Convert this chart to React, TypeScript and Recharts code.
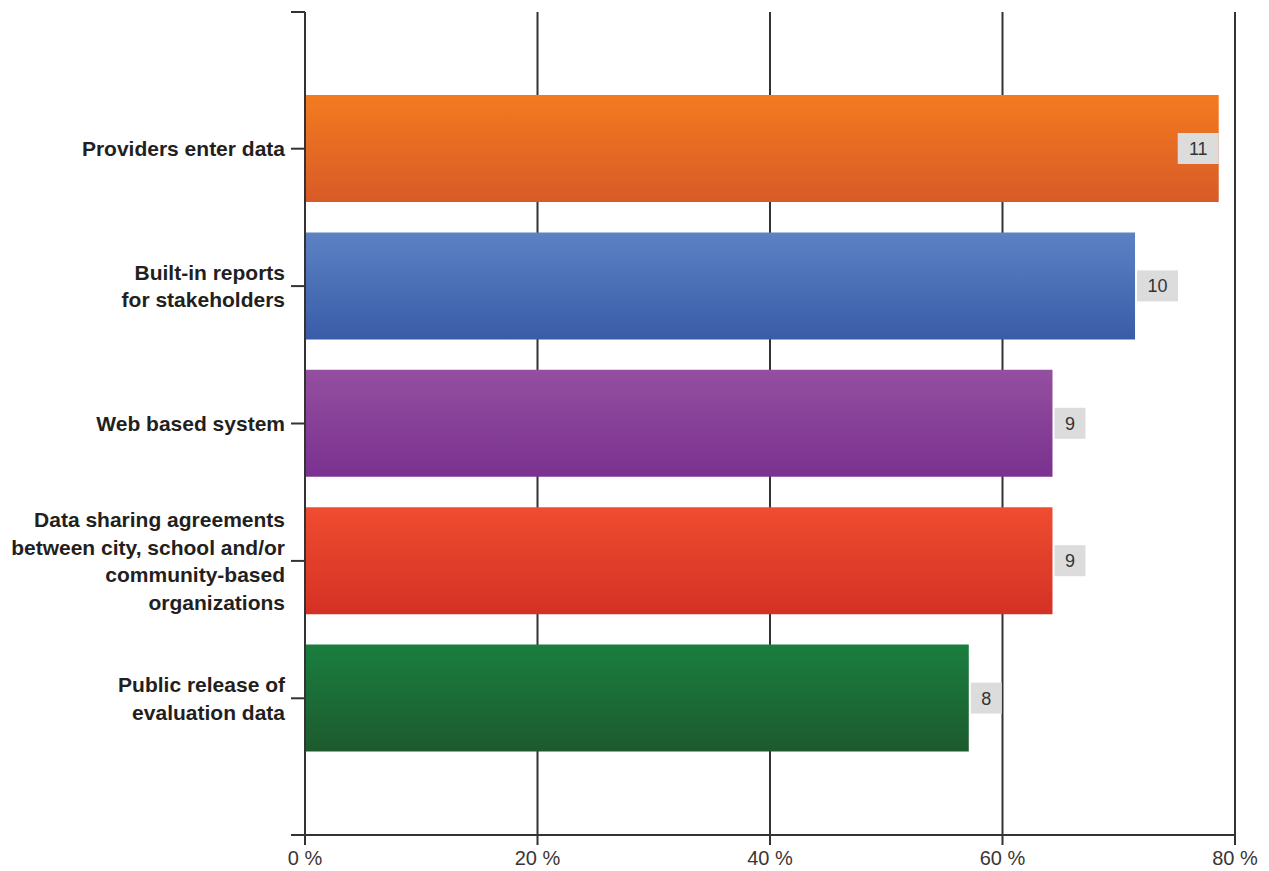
import React from "react";
import * as R from "recharts";
import { BarChart, Bar, XAxis, YAxis, CartesianGrid, Cell, LabelList } from "recharts";

// ── Data ──────────────────────────────────────────────────────────────────────

const CATEGORIES = [
  "Providers enter data",
  "Built-in reports\nfor stakeholders",
  "Web based system",
  "Data sharing agreements\nbetween city, school and/or\ncommunity-based\norganizations",
  "Public release of\nevaluation data",
];
const PERCENTS = [78.6, 71.4, 64.3, 64.3, 57.1];
const COUNTS = [11, 10, 9, 9, 8];
const X_TICKS = [0, 20, 40, 60, 80];

// top / bottom colour of each bar's vertical gradient
const GRADIENTS: [string, string][] = [
  ["#f47b20", "#d85a27"],
  ["#5c82c4", "#3a5ca8"],
  ["#944fa0", "#7a3190"],
  ["#ef4c30", "#d43125"],
  ["#1a7e3f", "#1d5a2e"],
];

const data = CATEGORIES.map((name, i) => ({ name, pct: PERCENTS[i], count: COUNTS[i] }));

const FONT = "'Liberation Sans', Arial, sans-serif";
const AXIS = "#333";

// ── Pieces ────────────────────────────────────────────────────────────────────

function CategoryTick(props: any) {
  const { x, y, payload } = props;
  const lines = String(payload.value).split("\n");
  const lh = 27.5;
  const first = -((lines.length - 1) / 2) * lh;
  return (
    <text
      x={x}
      y={y}
      textAnchor="end"
      fontFamily={FONT}
      fontWeight="bold"
      fontSize={21}
      fill="#231f20"
    >
      {lines.map((l, i) => (
        <tspan key={i} x={x} dy={i === 0 ? first + 7.5 : lh}>
          {l}
        </tspan>
      ))}
    </text>
  );
}

function PercentTick(props: any) {
  const { x, y, payload } = props;
  return (
    <text x={x} y={y + 18} textAnchor="middle" fontFamily={FONT} fontSize={20} fill="#3b3534">
      {payload.value} %
    </text>
  );
}

function ValueBox(props: any) {
  const { x, y, width, height, value } = props;
  const w = String(value).length > 1 ? 41 : 31;
  const h = 31;
  const end = x + width;
  // does not fit right of the bar -> tuck it inside the bar end
  const bx = end + w + 2 > 1235 ? end - w : end + 2;
  const by = y + height / 2 - h / 2;
  return (
    <g>
      <rect x={bx} y={by} width={w} height={h} fill="#dcdcdc" />
      <text
        x={bx + w / 2}
        y={by + h / 2 + 6.5}
        textAnchor="middle"
        fontFamily={FONT}
        fontSize={18}
        fill="#333"
      >
        {value}
      </text>
    </g>
  );
}

// small ticks at the top and bottom ends of the category axis
function AxisEnds() {
  const hook = (R as any).usePlotArea;
  const area = hook ? hook() : null;
  if (!area) return null;
  const left = area.x;
  return (
    <g>
      <line x1={left - 14} x2={left} y1={area.y} y2={area.y} stroke={AXIS} strokeWidth={2} />
      <line
        x1={left - 14}
        x2={left}
        y1={area.y + area.height}
        y2={area.y + area.height}
        stroke={AXIS}
        strokeWidth={2}
      />
    </g>
  );
}

// ── Chart ─────────────────────────────────────────────────────────────────────

export default function App() {
  return (
    <div style={{ position: "absolute", left: 0, top: 0, background: "#fff" }}>
      <BarChart
        width={1269}
        height={871}
        data={data}
        layout="vertical"
        margin={{ top: 12, right: 34, left: 0, bottom: 0 }}
      >
        <defs>
          {GRADIENTS.map(([top, bottom], i) => (
            <linearGradient key={i} id={`grad${i}`} x1="0" y1="0" x2="0" y2="1">
              <stop offset="0%" stopColor={top} />
              <stop offset="100%" stopColor={bottom} />
            </linearGradient>
          ))}
        </defs>
        <CartesianGrid horizontal={false} stroke={AXIS} strokeWidth={2} />
        <XAxis
          type="number"
          domain={[0, 80]}
          ticks={X_TICKS}
          height={36}
          tick={<PercentTick />}
          tickSize={10}
          axisLine={{ stroke: AXIS, strokeWidth: 2 }}
          tickLine={{ stroke: AXIS, strokeWidth: 2 }}
          interval={0}
        />
        <YAxis
          type="category"
          dataKey="name"
          width={305}
          padding={{ top: 68, bottom: 68 }}
          tick={<CategoryTick />}
          tickSize={14}
          tickMargin={6}
          axisLine={{ stroke: AXIS, strokeWidth: 2 }}
          tickLine={{ stroke: AXIS, strokeWidth: 2 }}
          interval={0}
        />
        <Bar dataKey="pct" barSize={107} isAnimationActive={false}>
          {data.map((d, i) => (
            <Cell key={d.name} fill={`url(#grad${i})`} />
          ))}
          <LabelList dataKey="count" content={<ValueBox />} />
        </Bar>
        <AxisEnds />
      </BarChart>
    </div>
  );
}
